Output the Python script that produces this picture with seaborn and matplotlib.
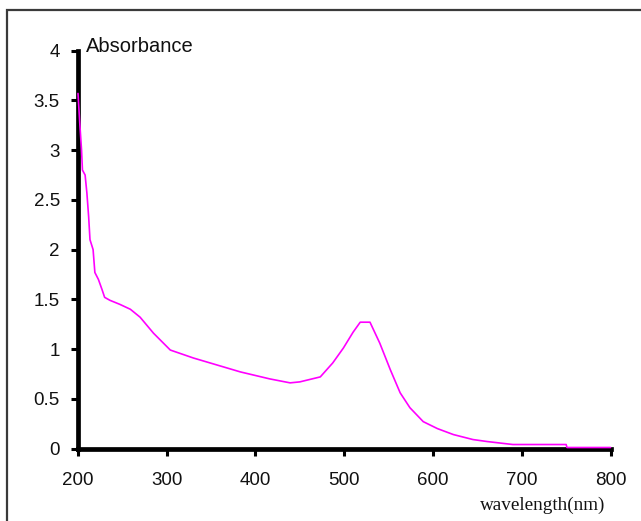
import matplotlib
matplotlib.use("Agg")
import matplotlib.pyplot as plt
import seaborn as sns
import pandas as pd
from matplotlib.patches import Rectangle

sns.set_style("ticks")
plt.rcParams['font.family'] = ['Liberation Sans', 'DejaVu Sans']

wavelength = [200, 202, 204, 205, 208, 210, 212, 213.5, 217, 219, 223, 227, 230, 236,
              247, 259, 270, 285, 304, 330, 383, 416, 439, 450, 473, 487, 499, 510,
              518, 529, 540, 552, 563, 574, 589, 605, 623, 645, 661, 690, 750, 751, 800]
absorbance = [3.57, 3.27, 3.00, 2.80, 2.75, 2.57, 2.33, 2.10, 2.00, 1.77, 1.70, 1.60,
              1.52, 1.49, 1.45, 1.40, 1.32, 1.16, 0.99, 0.91, 0.77, 0.70, 0.66, 0.67,
              0.72, 0.86, 1.01, 1.17, 1.27, 1.27, 1.06, 0.79, 0.56, 0.41, 0.27, 0.20,
              0.14, 0.09, 0.07, 0.04, 0.04, 0.01, 0.01]
x_ticks = [200, 300, 400, 500, 600, 700, 800]
y_ticks = [0, 0.5, 1, 1.5, 2, 2.5, 3, 3.5, 4]
y_labels = ["0", "0.5", "1", "1.5", "2", "2.5", "3", "3.5", "4"]

df = pd.DataFrame({"wavelength": wavelength, "absorbance": absorbance})

W, H = 641, 521
fig = plt.figure(figsize=(W / 100, H / 100), dpi=100)
fig.patches.append(Rectangle((7 / W, -0.05), 1.0, (H - 10) / H + 0.05,
                             transform=fig.transFigure, fill=False,
                             edgecolor="#3a3a3a", linewidth=1.6))
ax = fig.add_axes([78 / W, (H - 448.5) / H, (610.5 - 78) / W, (448.5 - 50.7) / H])
ax.set_facecolor("none")

sns.lineplot(data=df, x="wavelength", y="absorbance", ax=ax, color="#FF00FF",
             linewidth=1.2, clip_on=False, zorder=5)

ax.set_xlim(200, 800)
ax.set_ylim(0, 4)
ax.set_xticks(x_ticks)
ax.set_yticks(y_ticks)
ax.set_yticklabels(y_labels)
ax.set_xlabel("")
ax.set_ylabel("")
for s in ["top", "right"]:
    ax.spines[s].set_visible(False)
for s in ["left", "bottom"]:
    ax.spines[s].set_linewidth(3.4)
    ax.spines[s].set_color("black")
    ax.spines[s].set_zorder(3)
ax.tick_params(axis="both", direction="out", length=5, width=2.2, color="black",
               labelsize=13.5, labelcolor="#111111")
ax.tick_params(axis="y", pad=8)
ax.tick_params(axis="x", pad=12)

fig.text(86 / W, (H - 46) / H, "Absorbance", fontsize=14.5,
         family=["Liberation Sans", "DejaVu Sans"],
         ha="left", va="center", color="#111111")
fig.text(605 / W, (H - 505) / H, "wavelength(nm)", fontsize=13.8,
         family=["Liberation Serif", "DejaVu Serif"],
         ha="right", va="center", color="#111111")

fig.savefig("out.png", dpi=100)
